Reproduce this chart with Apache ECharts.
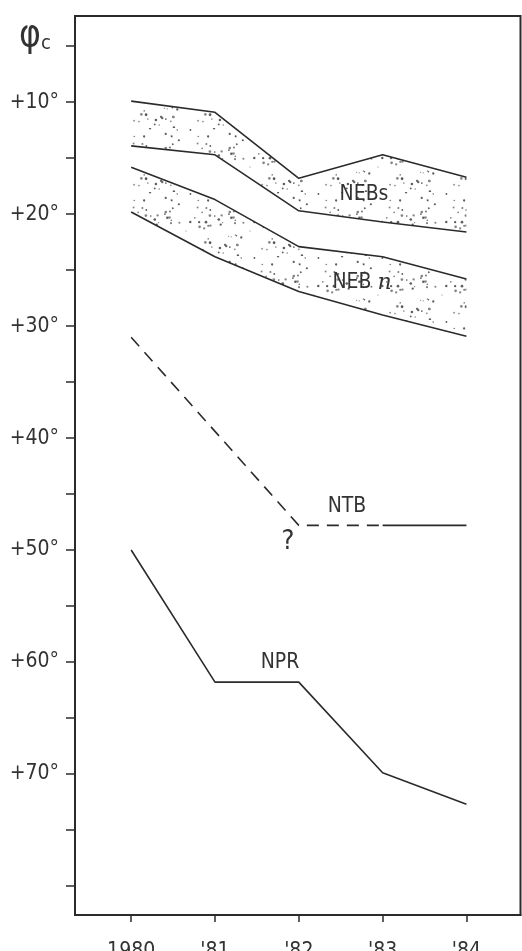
<!DOCTYPE html>
<html><head><meta charset="utf-8">
<script src="https://cdn.jsdelivr.net/npm/echarts@6/dist/echarts.min.js"></script>
<style>html,body{margin:0;padding:0;background:#fff}#c{width:522px;height:951px}</style>
</head><body><div id="c"></div>
<script>
// ---- data ----
const years = [1980, 1981, 1982, 1983, 1984];
const yearLabels = ['1980', "'81", "'82", "'83", "'84"];
const yTickValues = [5, 10, 15, 20, 25, 30, 35, 40, 45, 50, 55, 60, 65, 70, 75, 80];
const yLabelValues = [10, 20, 30, 40, 50, 60, 70];
const nebsNorth = [9.9, 10.9, 16.8, 14.7, 16.7];
const nebsSouth = [13.9, 14.7, 19.7, 20.7, 21.6];
const nebnNorth = [15.8, 18.7, 22.9, 23.8, 25.8];
const nebnSouth = [19.8, 23.8, 26.9, 29.0, 30.9];
const ntbYears = [1980, 1982, 1983, 1984];
const ntbValues = [31.0, 47.8, 47.8, 47.8];
const nprValues = [50.0, 61.8, 61.8, 69.9, 72.7];

// ---- stipple texture (deterministic scatter, decoration only) ----
function stipple() {
  const S = 64;
  const c = document.createElement('canvas');
  c.width = S; c.height = S;
  const g = c.getContext('2d');
  let seed = 12345;
  const next = () => { seed = (seed * 1103515245 + 12345) % 2147483648; return seed / 2147483648; };
  for (let i = 0; i < 58; i++) {
    const x = next() * S, y = next() * S;
    const r = 0.6 + next() * 0.8;
    g.fillStyle = next() < 0.5 ? '#5e5e5e' : '#858585';
    g.beginPath(); g.arc(x, y, r, 0, Math.PI * 2); g.fill();
  }
  return c;
}
const texImg = stipple();

const pairs = (xs, ys) => xs.map((x, i) => [x, ys[i]]);
const LINE = '#2b2b2b';
const FONT = "'Liberation Sans Narrow','DejaVu Sans Condensed',sans-serif";

function edge(vals) {
  return { type: 'line', data: pairs(years, vals), symbol: 'none', silent: true,
    lineStyle: { color: LINE, width: 1.6 }, z: 5 };
}
function band(north, south) {
  return {
    type: 'custom', silent: true, z: 2, data: [0],
    renderItem: (params, api) => {
      const pts = years.map((y, i) => api.coord([y, north[i]]))
        .concat(years.slice().reverse().map((y, j) => api.coord([y, south[years.length - 1 - j]])));
      return { type: 'polygon', shape: { points: pts },
        style: { fill: { image: texImg, repeat: 'repeat' }, stroke: null } };
    }
  };
}

const chart = echarts.init(document.getElementById('c'), null, { renderer: 'canvas' });
chart.setOption({
  animation: false,
  backgroundColor: '#fff',
  grid: { left: 75, top: 16, right: 1.5, bottom: 36, show: true, borderColor: LINE, borderWidth: 2,
    containLabel: false, outerBoundsMode: 'none' },
  xAxis: {
    type: 'value', min: 1979.33, max: 1984.645,
    axisLine: { show: true, lineStyle: { color: LINE, width: 2 } },
    axisTick: { show: true, customValues: years, length: 7, inside: false, lineStyle: { color: LINE, width: 1.5 } },
    axisLabel: { customValues: years, margin: 26, fontFamily: FONT, fontSize: 21, color: '#333',
      formatter: v => yearLabels[years.indexOf(Math.round(v))] },
    splitLine: { show: false }
  },
  yAxis: {
    type: 'value', inverse: true, min: 2.3, max: 82.6,
    axisLine: { show: true, lineStyle: { color: LINE, width: 2 } },
    axisTick: { show: true, customValues: yTickValues, length: 9, inside: false, lineStyle: { color: LINE, width: 1.5 } },
    axisLabel: { customValues: yLabelValues, margin: 16, fontFamily: FONT, fontSize: 21, color: '#333',
      formatter: v => '+' + v + '°' },
    splitLine: { show: false }
  },
  series: [
    band(nebsNorth, nebsSouth), band(nebnNorth, nebnSouth),
    edge(nebsNorth), edge(nebsSouth), edge(nebnNorth), edge(nebnSouth),
    { type: 'line', data: pairs(ntbYears.slice(0, 3), ntbValues.slice(0, 3)), symbol: 'none', silent: true,
      lineStyle: { color: LINE, width: 1.6, type: [12, 8] }, z: 5 },
    { type: 'line', data: pairs(ntbYears.slice(2), ntbValues.slice(2)), symbol: 'none', silent: true,
      lineStyle: { color: LINE, width: 1.6 }, z: 5 },
    edge(nprValues)
  ],
  graphic: [
    { type: 'text', left: 19, top: 18, z: 10, style: { text: '{p|φ}{s|c}', rich: {
        p: { fontFamily: "'DejaVu Sans Condensed',sans-serif", fontSize: 37, fill: '#333' },
        s: { fontFamily: FONT, fontSize: 20, fill: '#333', padding: [14, 0, 0, 0] } } } },
    { type: 'text', x: 364, y: 195, z: 10, style: { text: 'NEBs', fontFamily: FONT, fontSize: 21, fill: '#333', align: 'center', verticalAlign: 'middle' } },
    { type: 'text', x: 362, y: 283, z: 10, style: { text: '{a|NEB }{b|n}', align: 'center', verticalAlign: 'middle', rich: {
        a: { fontFamily: FONT, fontSize: 21, fill: '#333' },
        b: { fontFamily: "'DejaVu Serif',serif", fontStyle: 'italic', fontSize: 22, fill: '#333' } } } },
    { type: 'text', x: 347, y: 507, z: 10, style: { text: 'NTB', fontFamily: FONT, fontSize: 21, fill: '#333', align: 'center', verticalAlign: 'middle' } },
    { type: 'text', x: 288, y: 542, z: 10, style: { text: '?', fontFamily: FONT, fontSize: 27, fill: '#333', align: 'center', verticalAlign: 'middle' } },
    { type: 'text', x: 280, y: 663, z: 10, style: { text: 'NPR', fontFamily: FONT, fontSize: 21, fill: '#333', align: 'center', verticalAlign: 'middle' } }
  ]
});
</script>
</body></html>
